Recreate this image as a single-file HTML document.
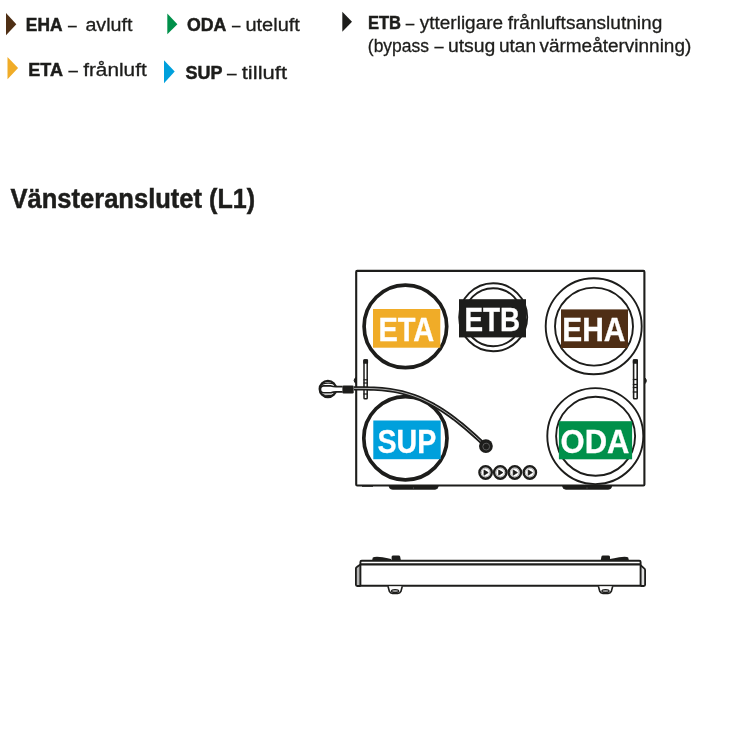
<!DOCTYPE html>
<html><head><meta charset="utf-8"><style>
html,body{margin:0;padding:0;background:#fff;width:750px;height:750px;overflow:hidden}
svg{display:block;will-change:transform}
text{font-family:"Liberation Sans",sans-serif}
</style></head><body>
<svg width="750" height="750" viewBox="0 0 750 750">
<g id="legend">
<polygon points="6,13 16.3,24.2 6,35.3" fill="#4f2f15"/>
<polygon points="167.3,13.5 177.4,24.2 167.3,34.3" fill="#00904a"/>
<polygon points="342.3,11.7 352,21.7 342.3,31.7" fill="#1d1d1b"/>
<polygon points="7.5,56.9 18.1,68.1 7.5,79.3" fill="#f0ac28"/>
<polygon points="164,60.3 174.7,71.5 164,83.3" fill="#00a0dc"/>
</g>

<g id="diagram" fill="none" stroke="#1d1d1b">
<!-- main box -->
<rect x="356.2" y="270.9" width="288.2" height="214.6" rx="1" stroke-width="2.1"/>
<!-- bumps on sides -->
<path d="M356,377.4 Q352.3,380.5 356,383.5 z" fill="#1d1d1b" stroke-width="1"/>
<path d="M644.5,377.5 Q648.2,380.7 644.5,384 z" fill="#1d1d1b" stroke-width="1"/>
<!-- feet -->
<path d="M389,485.8 H438.3 Q438,489.3 435,489.3 H392.3 Q389.3,489.3 389,485.8 z" fill="#1d1d1b" stroke-width="0.8"/><line x1="413.5" y1="487" x2="413.5" y2="489.5" stroke="#555" stroke-width="0.6"/>
<path d="M562.5,485.8 H611.8 Q611.5,489.3 608.5,489.3 H565.8 Q562.8,489.3 562.5,485.8 z" fill="#1d1d1b" stroke-width="0.8"/><line x1="587" y1="487" x2="587" y2="489.5" stroke="#555" stroke-width="0.6"/>
<line x1="362" y1="486.3" x2="373" y2="486.3" stroke-width="1"/>
<!-- ETA -->
<circle cx="405.4" cy="326.4" r="41.3" stroke-width="3.7"/>
<rect x="373" y="309" width="67.3" height="38.7" fill="#f0ac28" stroke="none"/>
<!-- ETB -->
<circle cx="493.2" cy="317.2" r="34" stroke-width="1.9"/>
<circle cx="493.2" cy="317.2" r="29" stroke-width="1.9"/>
<rect x="459" y="299.2" width="67" height="38.2" fill="#1d1d1b" stroke="none"/>
<!-- EHA -->
<circle cx="593.7" cy="326.3" r="48" stroke-width="1.9"/>
<circle cx="594" cy="326.6" r="39" stroke-width="1.9"/>
<rect x="561" y="309.4" width="67" height="38.6" fill="#4f2e15" stroke="none"/>
<!-- SUP -->
<circle cx="405.4" cy="438.2" r="41.6" stroke-width="3.7"/>
<rect x="373.3" y="420.5" width="67.4" height="38.7" fill="#00a0dc" stroke="none"/>
<!-- ODA -->
<circle cx="595.3" cy="436.1" r="48" stroke-width="1.9"/>
<circle cx="595.6" cy="436.3" r="39.5" stroke-width="1.9"/>
<rect x="558.9" y="421.2" width="73.2" height="38.1" fill="#00904a" stroke="none"/>
<!-- latches -->
<rect x="364" y="360" width="3.2" height="38.7" rx="0.8" stroke-width="1.5"/>
<rect x="363.3" y="359.2" width="4.8" height="4.6" rx="0.8" fill="#1d1d1b" stroke="none"/>
<line x1="363.5" y1="379.8" x2="367.9" y2="379.8" stroke-width="1.2"/>
<line x1="363.5" y1="383" x2="367.9" y2="383" stroke-width="1.2"/>
<line x1="363.5" y1="394" x2="367.9" y2="394" stroke-width="1.2"/>
<rect x="633.6" y="360" width="3.6" height="38.7" rx="0.8" stroke-width="1.6"/>
<rect x="632.8" y="359.2" width="5.2" height="4.6" rx="0.8" fill="#1d1d1b" stroke="none"/>
<line x1="632.8" y1="379.5" x2="638" y2="379.5" stroke-width="1.3"/>
<line x1="632.8" y1="384.5" x2="638" y2="384.5" stroke-width="1.3"/>
<line x1="632.8" y1="387.5" x2="638" y2="387.5" stroke-width="1.3"/>
<line x1="632.8" y1="392" x2="638" y2="392" stroke-width="1.3"/>
<!-- cable -->
<path d="M354.0,388.40 L358.0,388.40 L362.0,388.41 L366.0,388.44 L370.0,388.53 L374.0,388.67 L378.0,388.88 L382.0,389.18 L386.0,389.59 L390.0,390.10 L394.0,390.73 L398.0,391.50 L402.0,392.40 L406.0,393.45 L410.0,394.65 L414.0,396.00 L418.0,397.52 L422.0,399.19 L426.0,401.04 L430.0,403.04 L434.0,405.21 L438.0,407.55 L442.0,410.04 L446.0,412.69 L450.0,415.50 L454.0,418.45 L458.0,421.54 L462.0,424.76 L466.0,428.10 L470.0,431.56 L474.0,435.12 L478.0,438.76 L482.0,442.49 L486.0,446.28" stroke-width="4.2" stroke-linejoin="round"/>
<path d="M354.0,388.40 L358.0,388.40 L362.0,388.41 L366.0,388.44 L370.0,388.53 L374.0,388.67 L378.0,388.88 L382.0,389.18 L386.0,389.59 L390.0,390.10 L394.0,390.73 L398.0,391.50 L402.0,392.40 L406.0,393.45 L410.0,394.65 L414.0,396.00 L418.0,397.52 L422.0,399.19 L426.0,401.04 L430.0,403.04 L434.0,405.21 L438.0,407.55 L442.0,410.04 L446.0,412.69 L450.0,415.50 L454.0,418.45 L458.0,421.54 L462.0,424.76 L466.0,428.10 L470.0,431.56 L474.0,435.12 L478.0,438.76 L482.0,442.49 L486.0,446.28" stroke="#bdbdbd" stroke-width="0.9" stroke-linejoin="round"/>
<!-- grommet -->
<circle cx="485.9" cy="446.1" r="6.9" fill="#1d1d1b" stroke="none"/>
<circle cx="486.2" cy="446.6" r="3.4" stroke="#6a6a6a" stroke-width="0.8"/>
<!-- connector -->
<circle cx="327.9" cy="389" r="8.2" stroke-width="2.3"/>
<path d="M342.6,386.6 H336 Q333,386.6 331,385.9 H323.6 Q320.5,385.9 320.5,389.3 Q320.5,392.7 323.6,392.7 H331 Q333,391.9 336,391.9 H342.6" fill="#fff" stroke-width="1.6"/>
<path d="M321.8,384.4 Q327,382.2 334,383.8" stroke-width="1.2"/>
<path d="M321.8,394.2 Q327,396.4 334,394.8" stroke-width="1.2"/>
<rect x="342.4" y="385.5" width="11.3" height="7.9" rx="1.2" fill="#1d1d1b" stroke="none"/>
<!-- buttons -->
<g stroke-width="2.4">
<circle cx="485.6" cy="472.5" r="6.2"/>
<circle cx="500.3" cy="472.5" r="6.2"/>
<circle cx="514.8" cy="472.5" r="6.2"/>
<circle cx="529.8" cy="472.5" r="6.2"/>
</g>
<g stroke-width="0.6" stroke="#777">
<circle cx="485.6" cy="472.5" r="4.3"/>
<circle cx="500.3" cy="472.5" r="4.3"/>
<circle cx="514.8" cy="472.5" r="4.3"/>
<circle cx="529.8" cy="472.5" r="4.3"/>
</g>
<g fill="#1d1d1b" stroke="#1d1d1b" stroke-width="0.8" stroke-linejoin="round">
<path d="M484,470 L488.2,472.6 L484,475.2 z"/>
<path d="M498.7,470 L502.9,472.6 L498.7,475.2 z"/>
<path d="M513.2,470 L517.4,472.6 L513.2,475.2 z"/>
<path d="M528.2,470 L532.4,472.6 L528.2,475.2 z"/>
</g>
</g>
<g id="bottomview" fill="none" stroke="#1d1d1b">
<!-- left cap -->
<path d="M360.6,586 H357.2 Q355.9,586 355.9,584.8 V568.6 Q355.9,567.6 356.8,567 L360.4,564.4" fill="#b5b5b5" stroke-width="1.8"/>
<!-- right cap -->
<path d="M640.6,565.3 L644.2,568.4 Q645.1,569.1 645.1,570.2 V584.8 Q645.1,586 643.8,586 H640.6" fill="#e0e0e0" stroke-width="1.8"/>
<!-- body -->
<path d="M360.4,586 V562 Q360.4,560.7 361.7,560.7 H639.3 Q640.6,560.7 640.6,562 V586" stroke-width="1.9"/>
<path d="M359.8,585.8 H641.2" stroke-width="1.9"/>
<path d="M361,564.4 H640" stroke-width="2.3"/>
<!-- top features -->
<path d="M372.2,560 L372.8,557.5 Q374,556.7 377,556.7 Q383,557 387.7,558.3 L391,559 V560 z" fill="#1d1d1b" stroke="none"/>
<path d="M391.6,560 V556.8 Q391.8,555.4 393.3,555.4 H398.6 Q400,555.4 400.2,556.8 L400.8,560 z" fill="#1d1d1b" stroke="none"/>
<path d="M600.8,560 L601.4,556.8 Q601.6,555.4 603,555.4 H608.3 Q609.8,555.4 610,556.8 V560 z" fill="#1d1d1b" stroke="none"/>
<path d="M609.8,560 V559 L614.2,558.2 Q619,557 624.5,556.7 Q627.6,556.7 628.2,557.5 L628.8,560 z" fill="#1d1d1b" stroke="none"/>
<!-- feet -->
<path d="M388,586.3 L389.4,591.4 Q390.3,593.4 392.5,593.4 H397.8 Q400,593.4 400.9,591.4 L402.3,586.3" fill="#fff" stroke-width="1.6"/>
<ellipse cx="395.1" cy="591" rx="3.6" ry="1.5" fill="#999" stroke-width="1.2"/>
<path d="M598.4,586.3 L599.8,591.4 Q600.7,593.4 602.9,593.4 H608.2 Q610.4,593.4 611.3,591.4 L612.7,586.3" fill="#fff" stroke-width="1.6"/>
<ellipse cx="605.5" cy="591" rx="3.6" ry="1.5" fill="#999" stroke-width="1.2"/>
</g>

<g>
<text x="25.86" y="31.3" font-weight="bold" font-size="18.5" fill="#1d1d1b" stroke="#1d1d1b" stroke-width="0.5" textLength="36.61" lengthAdjust="spacingAndGlyphs">EHA</text>
<text x="68.11" y="31.3" font-weight="normal" font-size="18.3" fill="#1d1d1b" stroke="#1d1d1b" stroke-width="0.3" textLength="8.72" lengthAdjust="spacingAndGlyphs">–</text>
<text x="85.43" y="31.2" font-weight="normal" font-size="18.3" fill="#1d1d1b" stroke="#1d1d1b" stroke-width="0.3" textLength="47.05" lengthAdjust="spacingAndGlyphs">avluft</text>
<text x="187.02" y="31.2" font-weight="bold" font-size="18.5" fill="#1d1d1b" stroke="#1d1d1b" stroke-width="0.5" textLength="39.39" lengthAdjust="spacingAndGlyphs">ODA</text>
<text x="232.10" y="31.2" font-weight="normal" font-size="18.3" fill="#1d1d1b" stroke="#1d1d1b" stroke-width="0.3" textLength="8.43" lengthAdjust="spacingAndGlyphs">–</text>
<text x="245.41" y="31.2" font-weight="normal" font-size="18.3" fill="#1d1d1b" stroke="#1d1d1b" stroke-width="0.3" textLength="54.46" lengthAdjust="spacingAndGlyphs">uteluft</text>
<text x="367.91" y="29" font-weight="bold" font-size="18.5" fill="#1d1d1b" stroke="#1d1d1b" stroke-width="0.5" textLength="33.05" lengthAdjust="spacingAndGlyphs">ETB</text>
<text x="405.70" y="29" font-weight="normal" font-size="18.3" fill="#1d1d1b" stroke="#1d1d1b" stroke-width="0.3" textLength="8.53" lengthAdjust="spacingAndGlyphs">–</text>
<text x="419.83" y="29" font-weight="normal" font-size="18.3" fill="#1d1d1b" stroke="#1d1d1b" stroke-width="0.3" textLength="83.21" lengthAdjust="spacingAndGlyphs">ytterligare</text>
<text x="507.67" y="29" font-weight="normal" font-size="18.3" fill="#1d1d1b" stroke="#1d1d1b" stroke-width="0.3" textLength="154.57" lengthAdjust="spacingAndGlyphs">frånluftsanslutning</text>
<text x="367.84" y="52.1" font-weight="normal" font-size="18.3" fill="#1d1d1b" stroke="#1d1d1b" stroke-width="0.3" textLength="61.20" lengthAdjust="spacingAndGlyphs">(bypass</text>
<text x="434.41" y="52.1" font-weight="normal" font-size="18.3" fill="#1d1d1b" stroke="#1d1d1b" stroke-width="0.3" textLength="9.11" lengthAdjust="spacingAndGlyphs">–</text>
<text x="447.94" y="52.1" font-weight="normal" font-size="18.3" fill="#1d1d1b" stroke="#1d1d1b" stroke-width="0.3" textLength="47.43" lengthAdjust="spacingAndGlyphs">utsug</text>
<text x="498.96" y="52.1" font-weight="normal" font-size="18.3" fill="#1d1d1b" stroke="#1d1d1b" stroke-width="0.3" textLength="37.07" lengthAdjust="spacingAndGlyphs">utan</text>
<text x="539.43" y="52.1" font-weight="normal" font-size="18.3" fill="#1d1d1b" stroke="#1d1d1b" stroke-width="0.3" textLength="151.84" lengthAdjust="spacingAndGlyphs">värmeåtervinning)</text>
<text x="28.33" y="75.9" font-weight="bold" font-size="18.5" fill="#1d1d1b" stroke="#1d1d1b" stroke-width="0.5" textLength="34.70" lengthAdjust="spacingAndGlyphs">ETA</text>
<text x="68.42" y="75.9" font-weight="normal" font-size="18.3" fill="#1d1d1b" stroke="#1d1d1b" stroke-width="0.3" textLength="9.40" lengthAdjust="spacingAndGlyphs">–</text>
<text x="83.16" y="75.9" font-weight="normal" font-size="18.3" fill="#1d1d1b" stroke="#1d1d1b" stroke-width="0.3" textLength="63.57" lengthAdjust="spacingAndGlyphs">frånluft</text>
<text x="185.46" y="79.3" font-weight="bold" font-size="18.5" fill="#1d1d1b" stroke="#1d1d1b" stroke-width="0.5" textLength="36.94" lengthAdjust="spacingAndGlyphs">SUP</text>
<text x="227.12" y="79.3" font-weight="normal" font-size="18.3" fill="#1d1d1b" stroke="#1d1d1b" stroke-width="0.3" textLength="9.60" lengthAdjust="spacingAndGlyphs">–</text>
<text x="241.75" y="79.3" font-weight="normal" font-size="18.3" fill="#1d1d1b" stroke="#1d1d1b" stroke-width="0.3" textLength="45.25" lengthAdjust="spacingAndGlyphs">tilluft</text>
<text x="10.52" y="207.5" font-weight="bold" font-size="27.0" fill="#1d1d1b" stroke="#1d1d1b" stroke-width="0.5" textLength="191.54" lengthAdjust="spacingAndGlyphs">Vänsteranslutet</text>
<text x="209.05" y="207.5" font-weight="bold" font-size="27.0" fill="#1d1d1b" stroke="#1d1d1b" stroke-width="0.5" textLength="45.98" lengthAdjust="spacingAndGlyphs">(L1)</text>
<text x="378.47" y="341.4" font-weight="bold" font-size="33.7" fill="#fff" stroke="#fff" stroke-width="0.3" textLength="55.79" lengthAdjust="spacingAndGlyphs">ETA</text>
<text x="464.44" y="331.3" font-weight="bold" font-size="33.7" fill="#fff" stroke="#fff" stroke-width="0.3" textLength="55.71" lengthAdjust="spacingAndGlyphs">ETB</text>
<text x="562.32" y="341.4" font-weight="bold" font-size="33.7" fill="#fff" stroke="#fff" stroke-width="0.3" textLength="63.06" lengthAdjust="spacingAndGlyphs">EHA</text>
<text x="377.46" y="453.2" font-weight="bold" font-size="33.7" fill="#fff" stroke="#fff" stroke-width="0.3" textLength="58.92" lengthAdjust="spacingAndGlyphs">SUP</text>
<text x="560.55" y="452.9" font-weight="bold" font-size="33.7" fill="#fff" stroke="#fff" stroke-width="0.3" textLength="68.85" lengthAdjust="spacingAndGlyphs">ODA</text>
</g>
</svg>
</body></html>
